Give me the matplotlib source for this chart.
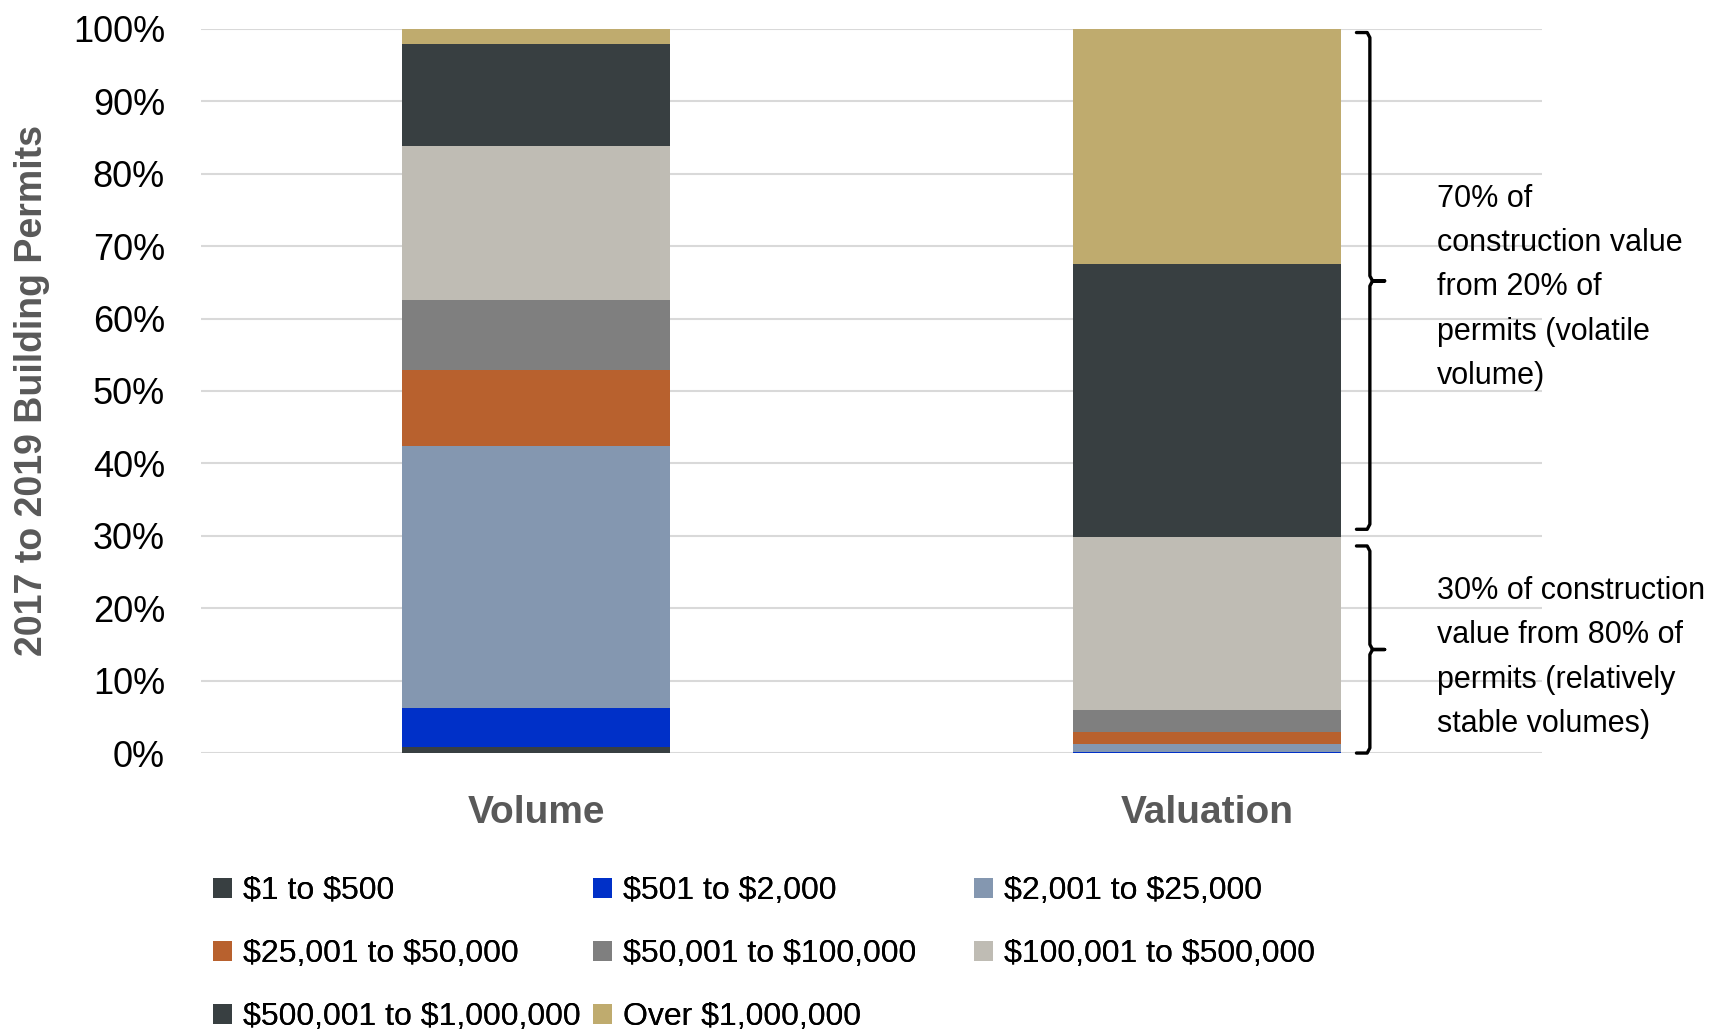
import numpy as np
import matplotlib
matplotlib.use("Agg")
import matplotlib.pyplot as plt
from matplotlib import font_manager as fm

names = {f.name for f in fm.fontManager.ttflist}
narrow = "Liberation Sans Narrow" if "Liberation Sans Narrow" in names else "Liberation Sans"
plt.rcParams['font.family'] = ['Liberation Sans', 'DejaVu Sans']

groups = ["Volume", "Valuation"]
ranges = ["$1 to $500", "$501 to $2,000", "$2,001 to $25,000",
          "$25,001 to $50,000", "$50,001 to $100,000", "$100,001 to $500,000",
          "$500,001 to $1,000,000", "Over $1,000,000"]
volume = [0.8, 5.4, 36.2, 10.5, 9.6, 21.4, 14.0, 2.1]
valuation = [0.0, 0.1, 1.1, 1.7, 3.0, 24.0, 37.7, 32.4]
colors = ["#383f41", "#0030c8", "#8497b0", "#b8612e",
          "#7f7f7f", "#bfbcb4", "#383f41", "#bfab6e"]

note_top = "70% of\nconstruction value\nfrom 20% of\npermits (volatile\nvolume)"
note_bot = "30% of construction\nvalue from 80% of\npermits (relatively\nstable volumes)"

fig = plt.figure(figsize=(17.27, 10.33), dpi=100)
ax = fig.add_axes([0.1164, 0.271, 0.7766, 0.701])

data = np.array([volume, valuation])
x = np.arange(len(groups))
bottom = np.zeros(len(groups))
handles = []
for i, lab in enumerate(ranges):
    h = ax.bar(x, data[:, i], 0.4, bottom=bottom, color=colors[i], zorder=3)
    handles.append(h)
    bottom += data[:, i]

ax.set_xlim(-0.5, 1.5)
ax.set_ylim(0, 100)
ax.set_yticks(np.arange(0, 101, 10))
ax.set_yticklabels([f"{v}%" for v in range(0, 101, 10)], fontsize=26)
ax.yaxis.grid(True, color="#d9d9d9", lw=1.5, zorder=0)
ax.set_xticks(x)
ax.set_xticklabels(groups, fontsize=28, fontweight="bold", color="#595959", family=narrow)
ax.tick_params(length=0)
ax.tick_params(axis="x", pad=30)
ax.tick_params(axis="y", pad=26)
for s in ax.spines.values():
    s.set_visible(False)
ax.set_ylabel("2017 to 2019 Building Permits", fontsize=27, fontweight="bold",
              color="#595959", family=narrow)
ax.yaxis.set_label_coords(-0.1126, 0.5)


def brace(x0, lo, hi):
    mid = (lo + hi) / 2
    xs = [x0 - 0.02, x0 - 0.004, x0, x0, x0 + 0.004, x0 + 0.022, x0 + 0.004, x0, x0, x0 - 0.004, x0 - 0.02]
    ys = [hi, hi, hi - 0.7, mid + 0.7, mid, mid, mid, mid - 0.7, lo + 0.7, lo, lo]
    ax.plot(xs, ys, color="black", lw=2.4, clip_on=False, zorder=5,
            solid_joinstyle="round", solid_capstyle="round")
    return mid


split = sum(valuation[:6])
m1 = brace(1.243, split + 1.0, 99.5)
m2 = brace(1.243, 0, split - 1.3)
ax.text(1.343, m1 - 0.9, note_top, fontsize=22, va="center", ha="left", linespacing=1.62, clip_on=False)
ax.text(1.343, m2 - 1.1, note_bot, fontsize=22, va="center", ha="left", linespacing=1.62, clip_on=False)

# legend: three columns placed separately, filled row by row
col_x = [0.1231, 0.3431, 0.5638]
for c in range(3):
    idx = list(range(c, len(ranges), 3))
    leg = fig.legend([handles[i] for i in idx], [ranges[i].replace("$", r"\$") for i in idx],
                     loc="upper left", bbox_to_anchor=(col_x[c], 0.152), ncol=1, frameon=False,
                     prop={"family": narrow, "size": 23}, handlelength=0.6, handleheight=0.6,
                     handletextpad=0.35, labelspacing=1.04, borderpad=0, borderaxespad=0)
    fig.add_artist(leg)

fig.savefig("out.png", dpi=100)
